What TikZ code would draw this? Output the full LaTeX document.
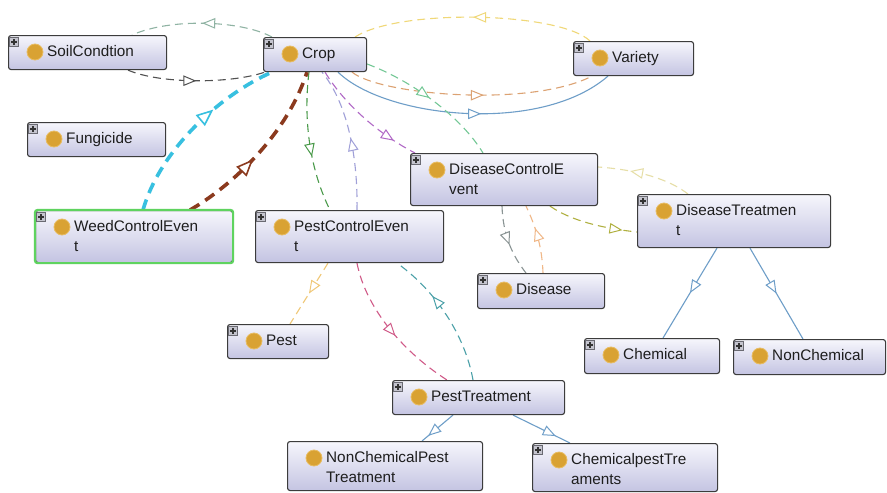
\documentclass[tikz,border=0pt]{standalone}
\usepackage{fontspec}
\setmainfont{Liberation Sans}
\usetikzlibrary{arrows.meta,decorations.markings,backgrounds}

% class boxes
\definecolor{boxline}{HTML}{3C3C3C}
\definecolor{boxtop}{HTML}{F6F6FC}
\definecolor{boxbottom}{HTML}{C4C4E2}
\definecolor{classgold}{HTML}{D9A233}
\definecolor{classgoldrim}{HTML}{E8BC62}
\definecolor{plusfill}{HTML}{C4C4CE}
\definecolor{plusline}{HTML}{6A6A72}
\definecolor{labelink}{HTML}{1E1E1E}
\definecolor{selgreen}{HTML}{5FD35F}
% relation colours
\definecolor{relsoil}{HTML}{8FB3A3}
\definecolor{reldark}{HTML}{505050}
\definecolor{relyellow}{HTML}{F0D878}
\definecolor{relorange}{HTML}{DCA272}
\definecolor{relblue}{HTML}{6E9EC8}
\definecolor{relmint}{HTML}{74C896}
\definecolor{relpurple}{HTML}{B068C6}
\definecolor{rellavender}{HTML}{A0A0D8}
\definecolor{relgreen}{HTML}{4A9A4A}
\definecolor{relbrown}{HTML}{8B3A1E}
\definecolor{relcyan}{HTML}{38C0E0}
\definecolor{relolive}{HTML}{B0B040}
\definecolor{relpale}{HTML}{E6DEA6}
\definecolor{relgray}{HTML}{8A9494}
\definecolor{relpeach}{HTML}{F0B888}
\definecolor{relamber}{HTML}{F0C878}
\definecolor{relpink}{HTML}{D05A88}
\definecolor{relteal}{HTML}{4AA0A8}

\tikzset{
  x=1pt, y=-1pt,
  classbox/.style={anchor=north west, draw=boxline, line width=1.1pt,
    rounded corners=2.5pt, top color=boxtop, bottom color=boxbottom, inner sep=0pt},
  classdot/.style={circle, fill=classgold, draw=classgoldrim, line width=0.8pt,
    minimum size=16pt, inner sep=0pt},
  classtext/.style={anchor=west, inner sep=0pt, text height=11pt, text depth=3pt,
    text=labelink, font=\fontsize{15.3}{18}\selectfont},
  plusicon/.style={draw=plusline, fill=plusfill, line width=0.6pt,
    minimum size=9.5pt, inner sep=0pt,
    path picture={
      \draw[line width=1.1pt, black!80]
        ([xshift=-2.6pt]path picture bounding box.center) -- ([xshift=2.6pt]path picture bounding box.center)
        ([yshift=-2.6pt]path picture bounding box.center) -- ([yshift=2.6pt]path picture bounding box.center);}},
  dashrel/.style={line width=1.1pt, dash pattern=on 8pt off 5pt},
  solidrel/.style={line width=1.1pt},
  heavyrel/.style={line width=3.6pt, dash pattern=on 11pt off 7pt},
  midtip/.style={postaction={decorate,decoration={markings,
    mark=at position #1 with {\arrow{Triangle[length=13pt,width=10.5pt,line width=1pt,fill=white]}}}}},
  bigtip/.style={postaction={decorate,decoration={markings,
    mark=at position #1 with {\arrow{Triangle[length=17pt,width=14pt,line width=1.6pt,fill=white]}}}}},
}

% #1 optional second line, #2 name, #3 x, #4 y, #5 width, #6 height, #7 first line
\newcommand\ontoclass[7][]{%
  \node[classbox, minimum width=#5pt, minimum height=#6pt] (#2) at (#3,#4) {};
  \node[classdot] (#2-dot) at ([shift={(27pt,-17pt)}]#2.north west) {};
  \node[classtext] (#2-t1) at ([shift={(39pt,-17pt)}]#2.north west) {#7};
  \if\relax\detokenize{#1}\relax\else
    \node[classtext] (#2-t2) at ([shift={(39pt,-37pt)}]#2.north west) {#1};
  \fi
}

\begin{document}
\begin{tikzpicture}
\useasboundingbox (0,0) rectangle (887,493);

% classes
\ontoclass{soil}{8}{35}{158}{34}{SoilCondtion}
\ontoclass{crop}{263}{37}{103}{34}{Crop}
\ontoclass{variety}{573}{41}{120}{34}{Variety}
\ontoclass{fung}{27}{122}{138}{34}{Fungicide}
\ontoclass[vent]{dce}{410}{153}{187}{52}{DiseaseControlE}
\ontoclass[t]{dt}{637}{194}{193}{53}{DiseaseTreatmen}
\ontoclass[t]{wce}{35}{210}{197}{52}{WeedControlEven}
\ontoclass[t]{pce}{255}{210}{188}{52}{PestControlEven}
\ontoclass{pest}{227}{324}{101}{34}{Pest}
\ontoclass{disease}{477}{273}{127}{35}{Disease}
\ontoclass{chem}{584}{338}{135}{35}{Chemical}
\ontoclass{nonchem}{733}{339}{152}{35}{NonChemical}
\ontoclass{pt}{392}{380}{172}{34}{PestTreatment}
\ontoclass[Treatment]{ncpt}{287}{441}{195}{49}{NonChemicalPest}
\ontoclass[aments]{cpt}{532}{443}{185}{48}{ChemicalpestTre}

% selected class frame
\draw[selgreen, line width=2.2pt, rounded corners=2.5pt] (wce.north west) rectangle (wce.south east);

% expand markers
\foreach \n in {soil,crop,variety,fung,dce,dt,wce,pce,pest,disease,chem,nonchem,pt,cpt}
  \node[plusicon] (\n-plus) at ([shift={(6pt,-7pt)}]\n.north west) {};

\begin{scope}[on background layer]
\fill[white] (0,0) rectangle (887,493);

% Crop <-> SoilCondtion
\draw[dashrel, relsoil, midtip=0.5] ([xshift=9pt]crop.north west)
  .. controls (240,20) and (170,18) .. ([xshift=124pt]soil.north west);
\draw[dashrel, reldark, midtip=0.5] ([xshift=120pt]soil.south west)
  .. controls (160,84) and (230,84) .. ([xshift=2pt]crop.south west);

% Crop <-> Variety
\draw[dashrel, relyellow, midtip=0.5] ([xshift=17pt]variety.north west)
  .. controls (560,12) and (400,8) .. ([xshift=92pt]crop.north west);
\draw[dashrel, relorange, midtip=0.55] ([xshift=89pt]crop.south west)
  .. controls (380,95) and (530,108) .. ([xshift=19pt]variety.south west);
\draw[solidrel, relblue, midtip=0.53] ([xshift=75pt]crop.south west)
  .. controls (385,118) and (540,135) .. ([xshift=35pt]variety.south west);

% Crop -> DiseaseControlEvent
\draw[dashrel, relmint, midtip=0.48] ([yshift=-27pt]crop.north east)
  .. controls (410,80) and (460,115) .. ([xshift=73pt]dce.north west);
\draw[dashrel, relpurple, midtip=0.8] ([xshift=62pt]crop.south west)
  .. controls (345,105) and (380,135) .. ([xshift=5pt]dce.north west);

% Crop <-> PestControlEvent
\draw[dashrel, rellavender, midtip=0.5] ([xshift=102pt]pce.north west)
  .. controls (358,150) and (345,100) .. ([xshift=59pt]crop.south west);
\draw[dashrel, relgreen, midtip=0.6] ([xshift=46pt]crop.south west)
  .. controls (303,120) and (310,170) .. ([xshift=75pt]pce.north west);

% WeedControlEvent -> Crop
\draw[heavyrel, relbrown, bigtip=0.44] ([xshift=155pt]wce.north west)
  .. controls (225,190) and (285,140) .. ([xshift=44pt]crop.south west);
\draw[heavyrel, relcyan, bigtip=0.64] ([xshift=108pt]wce.north west)
  .. controls (160,150) and (220,95) .. ([xshift=9pt]crop.south west);

% DiseaseControlEvent <-> DiseaseTreatment
\draw[dashrel, relolive, midtip=0.84] ([xshift=140pt]dce.south west)
  .. controls (570,220) and (600,228) .. ([yshift=-38pt]dt.north west);
\draw[dashrel, relpale, midtip=0.66] ([xshift=51pt]dt.north west)
  .. controls (670,180) and (640,170) .. ([yshift=-14pt]dce.north east);

% DiseaseControlEvent <-> Disease
\draw[dashrel, relgray, midtip=0.55] ([xshift=92pt]dce.south west)
  .. controls (503,235) and (512,255) .. ([xshift=49pt]disease.north west);
\draw[dashrel, relpeach, midtip=0.66] ([xshift=66pt]disease.north west)
  .. controls (542,245) and (535,225) .. ([xshift=116pt]dce.south west);

% DiseaseTreatment subclasses
\draw[solidrel, relblue, midtip=0.5] ([xshift=80pt]dt.south west) -- ([xshift=79pt]chem.north west);
\draw[solidrel, relblue, midtip=0.5] ([xshift=113pt]dt.south west) -- ([xshift=70pt]nonchem.north west);

% PestControlEvent relations
\draw[dashrel, relamber, midtip=0.5] ([xshift=73pt]pce.south west) -- ([xshift=63pt]pest.north west);
\draw[dashrel, relpink, midtip=0.55] ([xshift=102pt]pce.south west)
  .. controls (365,305) and (400,350) .. ([xshift=55pt]pt.north west);
\draw[dashrel, relteal, midtip=0.66] ([xshift=81pt]pt.north west)
  .. controls (465,335) and (435,290) .. ([xshift=142pt]pce.south west);

% PestTreatment subclasses
\draw[solidrel, relblue, midtip=0.8] ([xshift=61pt]pt.south west) -- ([xshift=135pt]ncpt.north west);
\draw[solidrel, relblue, midtip=0.75] ([xshift=121pt]pt.south west) -- ([xshift=38pt]cpt.north west);
\end{scope}
\end{tikzpicture}
\end{document}
